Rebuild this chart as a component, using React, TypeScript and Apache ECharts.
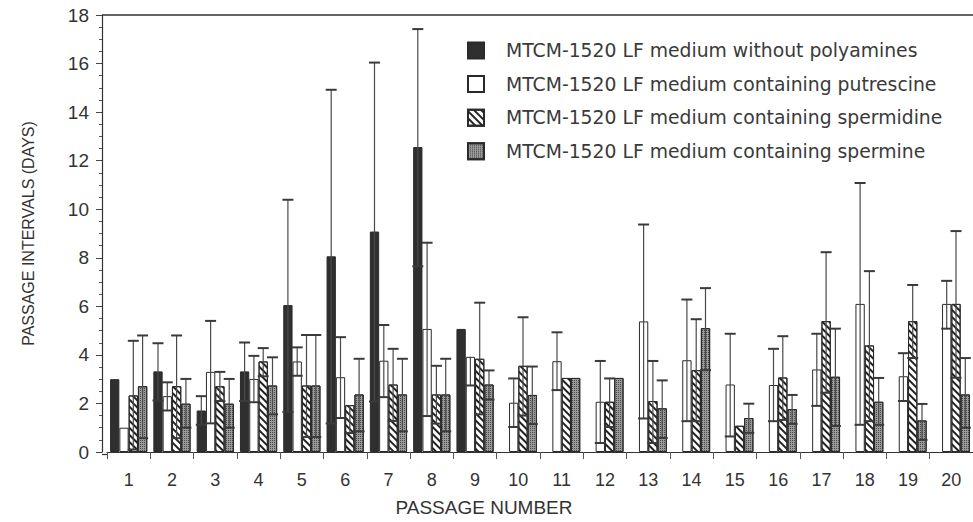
import React, { useEffect, useRef } from "react";
import * as echarts from "echarts";

const passages = ["1","2","3","4","5","6","7","8","9","10","11","12","13","14","15","16","17","18","19","20"];
const seriesNames = [
  "MTCM-1520 LF medium without polyamines",
  "MTCM-1520 LF medium containing putrescine",
  "MTCM-1520 LF medium containing spermidine",
  "MTCM-1520 LF medium containing spermine",
];

const noPolyMean = [3.0, 3.32, 1.71, 3.32, 6.05, 8.06, 9.08, 12.56, 5.07, null, null, null, null, null, null, null, null, null, null, null];
const noPolyLow = [null, 2.12, 1.12, 2.1, 1.65, 1.18, 2.08, 7.65, null, null, null, null, null, null, null, null, null, null, null, null];
const noPolyHigh = [null, 4.48, 2.3, 4.51, 10.39, 14.92, 16.04, 17.42, null, null, null, null, null, null, null, null, null, null, null, null];

const putMean = [1.0, 2.3, 3.3, 3.01, 3.73, 3.08, 3.76, 5.07, 3.92, 2.03, 3.74, 2.07, 5.38, 3.78, 2.78, 2.76, 3.4, 6.1, 3.12, 6.1];
const putLow = [null, 1.71, 1.18, 2.05, 3.14, 1.4, 2.26, 1.48, 2.74, 1.03, 2.55, 0.37, 1.38, 1.27, 0.64, 1.27, 1.9, 1.12, 2.1, 5.08];
const putHigh = [null, 2.87, 5.4, 3.96, 4.31, 4.73, 5.23, 8.62, null, 3.03, 4.93, 3.75, 9.37, 6.28, 4.87, 4.25, 4.87, 11.08, 4.07, 7.05];

const spdMean = [2.33, 2.71, 2.71, 3.73, 2.74, 1.93, 2.78, 2.37, 3.84, 3.55, 3.05, 2.07, 2.1, 3.37, 1.08, 3.07, 5.39, 4.39, 5.39, 6.1];
const spdLow = [0.1, 0.57, 2.1, 3.12, 0.62, 0.78, 1.28, 1.17, 1.55, 1.5, null, 1.03, 0.37, 1.27, null, 1.32, 2.44, 1.27, 3.87, 3.06];
const spdHigh = [4.58, 4.8, 3.3, 4.28, 4.82, null, 4.25, 3.55, 6.15, 5.55, null, 3.03, 3.75, 5.47, null, 4.77, 8.23, 7.45, 6.88, 9.1];

const spmMean = [2.71, 1.99, 1.99, 2.74, 2.74, 2.37, 2.37, 2.37, 2.78, 2.35, 3.05, 3.05, 1.8, 5.1, 1.4, 1.77, 3.1, 2.07, 1.3, 2.37];
const spmLow = [0.57, 1.0, 1.0, 1.55, 0.62, 0.85, 0.85, 0.85, 2.16, 1.15, null, null, 0.58, 3.37, 0.79, 1.16, 1.07, 1.12, 0.5, 1.0];
const spmHigh = [4.8, 3.01, 3.01, 3.9, 4.82, 3.84, 3.84, 3.84, 3.36, 3.52, null, null, 2.95, 6.75, 1.99, 2.35, 5.08, 3.05, 1.98, 3.87];

const yTicks = { min: 0, max: 18, interval: 2 };

const BAR_W = 9.3;
const GRID_LEFT = 107;
const GRID_TOP = 15;
const GRID_BOTTOM = 67.5;
const AXIS_X = 102;

export default function App() {
  const ref = useRef<HTMLDivElement>(null);
  useEffect(() => {
    if (!ref.current) return;
    const chart = echarts.init(ref.current, null, { renderer: "svg" });

    const means = [noPolyMean, putMean, spdMean, spmMean];
    const lows = [noPolyLow, putLow, spdLow, spmLow];
    const highs = [noPolyHigh, putHigh, spdHigh, spmHigh];

    const errData: any[] = [];
    for (let k = 0; k < 4; k++) {
      for (let i = 0; i < passages.length; i++) {
        const m = means[k][i];
        if (m == null) continue;
        const lo = lows[k][i];
        const hi = highs[k][i];
        if (lo == null && hi == null) continue;
        errData.push([i, k, lo == null ? m : lo, hi == null ? m : hi, lo == null ? 0 : 1, hi == null ? 0 : 1]);
      }
    }

    const border = { borderColor: "#2a2a2a", borderWidth: 1 };
    const styles: any[] = [
      { color: "#2f2f2f", ...border },
      { color: "#ffffff", ...border },
      {
        color: "#ffffff",
        ...border,
        decal: {
          symbol: "rect",
          symbolSize: 1,
          dashArrayX: [1, 0],
          dashArrayY: [1.3, 2.2],
          rotation: Math.PI / 4,
          color: "#222",
          backgroundColor: "#ffffff",
        },
      },
      {
        color: "#9a9a9a",
        ...border,
        decal: {
          symbol: "rect",
          symbolSize: 1,
          dashArrayX: [1, 1],
          dashArrayY: [1, 1],
          color: "#4a4a4a",
          backgroundColor: "#b0b0b0",
        },
      },
    ];

    const barSeries = seriesNames.map((name, k) => ({
      name,
      type: "bar",
      data: means[k],
      barWidth: BAR_W,
      barGap: "0%",
      itemStyle: styles[k],
      emphasis: { disabled: true },
    }));

    const capW = 11;
    const errSeries = {
      type: "custom",
      name: "error",
      data: errData,
      encode: { x: 0, y: [2, 3] },
      z: 5,
      silent: true,
      renderItem: (params: any, api: any) => {
        const cat = api.value(0);
        const k = api.value(1);
        const lo = api.value(2);
        const hi = api.value(3);
        const hasLo = api.value(4);
        const hasHi = api.value(5);
        const cx = api.coord([cat, 0])[0] + (k - 1.5) * BAR_W;
        const yLo = api.coord([cat, lo])[1];
        const yHi = api.coord([cat, hi])[1];
        const st = { stroke: "#4a4a4a", lineWidth: 1.2 };
        const capSt = { stroke: "#3a3a3a", lineWidth: 2 };
        const children: any[] = [
          { type: "line", shape: { x1: cx, y1: yLo, x2: cx, y2: yHi }, style: st },
        ];
        if (hasHi) children.push({ type: "line", shape: { x1: cx - capW / 2, y1: yHi, x2: cx + capW / 2, y2: yHi }, style: capSt });
        if (hasLo) children.push({ type: "line", shape: { x1: cx - capW / 2, y1: yLo, x2: cx + capW / 2, y2: yLo }, style: capSt });
        return { type: "group", children };
      },
    };

    const h = ref.current.clientHeight;
    const axisY = h - GRID_BOTTOM;

    chart.setOption({
      animation: false,
      backgroundColor: "#ffffff",
      grid: { left: GRID_LEFT, right: -10, top: GRID_TOP, bottom: GRID_BOTTOM, containLabel: false },
      legend: {
        data: seriesNames,
        orient: "vertical",
        left: 462,
        top: 36,
        icon: "rect",
        itemWidth: 16,
        itemHeight: 16,
        itemGap: 14.6,
        selectedMode: false,
        textStyle: {
          fontFamily: "'DejaVu Sans', sans-serif",
          fontSize: 18.8,
          color: "#3a3a3a",
          lineHeight: 16,
          padding: [0, 0, 0, 17],
        },
      },
      xAxis: {
        type: "category",
        data: passages,
        axisLine: { show: true, lineStyle: { color: "#333", width: 1.2 } },
        axisTick: { show: true, alignWithLabel: false, length: 7, lineStyle: { color: "#555" } },
        axisLabel: {
          fontFamily: "'Liberation Sans Narrow', 'Liberation Sans', sans-serif",
          fontSize: 18,
          color: "#333",
          margin: 19,
        },
        name: "PASSAGE NUMBER",
        nameLocation: "middle",
        nameGap: 46,
        nameTextStyle: {
          fontFamily: "'Liberation Sans Narrow', 'Liberation Sans', sans-serif",
          fontSize: 19,
          color: "#333",
          padding: [0, 112, 0, 0],
        },
      },
      yAxis: {
        type: "value",
        min: yTicks.min,
        max: yTicks.max,
        interval: yTicks.interval,
        offset: GRID_LEFT - AXIS_X,
        axisLine: { show: true, lineStyle: { color: "#333", width: 1.2 } },
        axisTick: { show: true, length: 6, lineStyle: { color: "#444" } },
        minorTick: { show: true, splitNumber: 4, length: 3, lineStyle: { color: "#555" } },
        splitLine: { show: false },
        axisLabel: {
          fontFamily: "'Liberation Sans', sans-serif",
          fontSize: 19,
          color: "#333",
          margin: 13,
        },
        name: "PASSAGE INTERVALS (DAYS)",
        nameLocation: "middle",
        nameGap: 66,
        nameRotate: 90,
        nameTextStyle: {
          fontFamily: "'Liberation Sans', sans-serif",
          fontSize: 16,
          color: "#333",
        },
      },
      graphic: [
        { type: "line", shape: { x1: AXIS_X, y1: GRID_TOP, x2: 973, y2: GRID_TOP }, style: { stroke: "#333", lineWidth: 1.5 }, silent: true },
        { type: "line", shape: { x1: AXIS_X, y1: axisY, x2: GRID_LEFT, y2: axisY }, style: { stroke: "#333", lineWidth: 1.2 }, silent: true },
      ],
      series: [...barSeries, errSeries],
    });

    return () => chart.dispose();
  }, []);

  return <div ref={ref} style={{ width: 973, height: 522, position: "absolute", left: 0, top: 0 }} />;
}
